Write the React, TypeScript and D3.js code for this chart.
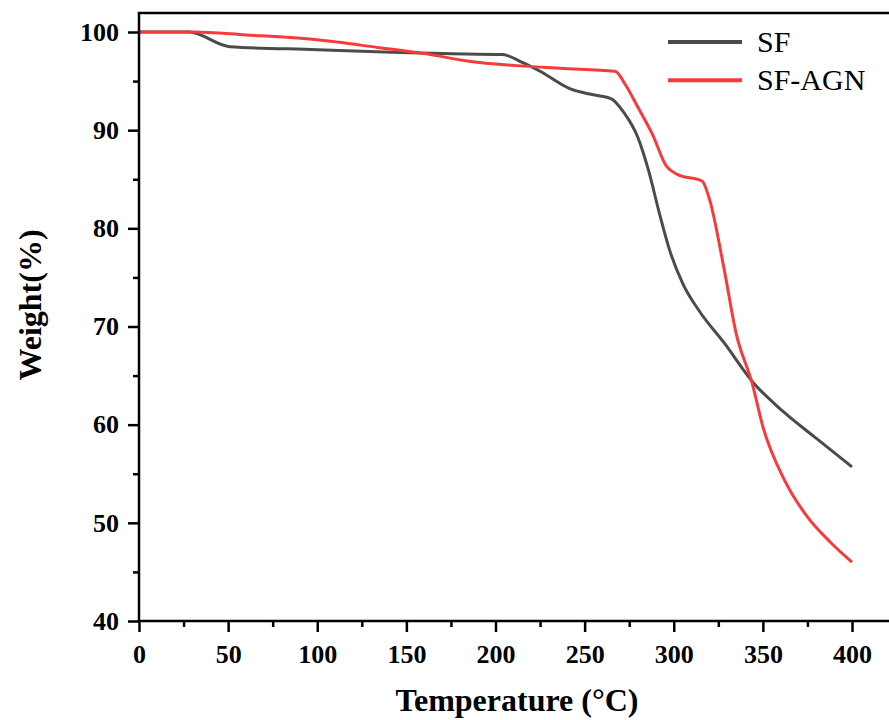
import { useEffect, useRef } from "react";
import * as d3 from "d3";

// TGA curves: [temperature °C, weight %]
const sfData: [number, number][] = [
  [0, 100], [28, 100], [51, 98.5], [100, 98.2], [146, 97.9], [170, 97.8],
  [204, 97.7], [215, 96.9], [225, 96.0], [242, 94.2], [255, 93.6], [265, 93.2],
  [272, 91.8], [280, 89.2], [286, 85.8], [292, 81.5], [298, 77.6], [305, 74.4],
  [315, 71.4], [328, 68.4], [345, 64.2], [361, 61.4], [380, 58.6], [400, 55.7],
];
const agnData: [number, number][] = [
  [0, 100], [30, 100], [60, 99.7], [100, 99.2], [135, 98.4], [160, 97.8],
  [186, 97.0], [210, 96.6], [236, 96.3], [267, 96.0], [273, 94.6], [280, 92.3],
  [288, 89.6], [296, 86.3], [302, 85.5], [316, 84.8], [320, 83.0], [328, 76.1],
  [335, 69.3], [344, 64.2], [350, 59.8], [362, 54.4], [375, 50.6], [388, 48.0],
  [400, 46.0],
];
const seriesNames = ["SF", "SF-AGN"];
const seriesColors = ["#4b4b4b", "#f73b3b"];
const xTicks = [0, 50, 100, 150, 200, 250, 300, 350, 400];
const xMinor = [25, 75, 125, 175, 225, 275, 325, 375, 425];
const yTicks = [40, 50, 60, 70, 80, 90, 100];
const yMinor = [45, 55, 65, 75, 85, 95];

const W = 889;
const H = 720;

export default function App() {
  const xAxisRef = useRef<SVGGElement>(null);
  const xMinorRef = useRef<SVGGElement>(null);
  const yAxisRef = useRef<SVGGElement>(null);
  const yMinorRef = useRef<SVGGElement>(null);

  const x = d3.scaleLinear().domain([0, 400]).range([139, 852]);
  const y = d3.scaleLinear().domain([40, 100]).range([621, 32]);
  const xEnd = x(430);
  const yTop = y(101.93);

  const line = d3
    .line<[number, number]>()
    .x((d) => x(d[0]))
    .y((d) => y(d[1]))
    .curve(d3.curveMonotoneX);

  useEffect(() => {
    const font = "'Liberation Serif', 'Times New Roman', serif";
    const xa = d3.select(xAxisRef.current!);
    xa.call(d3.axisBottom(x).tickValues(xTicks).tickSize(11).tickSizeOuter(0).tickPadding(13).tickFormat(d3.format("d")));
    const xm = d3.select(xMinorRef.current!);
    xm.call(d3.axisBottom(x).tickValues(xMinor).tickSize(6).tickSizeOuter(0).tickFormat(() => ""));
    const ya = d3.select(yAxisRef.current!);
    ya.call(d3.axisLeft(y).tickValues(yTicks).tickSize(11).tickSizeOuter(0).tickPadding(9).tickFormat(d3.format("d")));
    const ym = d3.select(yMinorRef.current!);
    ym.call(d3.axisLeft(y).tickValues(yMinor).tickSize(6).tickSizeOuter(0).tickFormat(() => ""));
    [xa, xm, ya, ym].forEach((g) => {
      g.select(".domain").remove();
      g.selectAll("line").attr("stroke", "#000").attr("stroke-width", 2.5);
      g.selectAll("text")
        .attr("fill", "#000")
        .style("font-family", font)
        .style("font-weight", "bold")
        .style("font-size", "26px");
    });
  }, []);

  const titleStyle = { fontFamily: "'Liberation Serif', serif", fontWeight: "bold", fontSize: 32 };

  return (
    <div style={{ position: "absolute", left: 0, top: 0 }}>
      <svg width={W} height={H} style={{ display: "block", background: "#fff" }}>
        <path d={line(sfData) ?? ""} fill="none" stroke={seriesColors[0]} strokeWidth={3} />
        <path d={line(agnData) ?? ""} fill="none" stroke={seriesColors[1]} strokeWidth={3} />

        {/* frame */}
        <line x1={x(0)} x2={x(0)} y1={yTop} y2={y(40)} stroke="#000" strokeWidth={2.5} />
        <line x1={x(0) - 1.2} x2={xEnd} y1={y(40)} y2={y(40)} stroke="#000" strokeWidth={2.5} />
        <line x1={x(0) - 1.2} x2={xEnd} y1={yTop} y2={yTop} stroke="#000" strokeWidth={2.5} />

        <g ref={xAxisRef} transform={`translate(0,${y(40)})`} />
        <g ref={xMinorRef} transform={`translate(0,${y(40)})`} />
        <g ref={yAxisRef} transform={`translate(${x(0)},0)`} />
        <g ref={yMinorRef} transform={`translate(${x(0)},0)`} />

        <text x={517} y={711} textAnchor="middle" style={titleStyle}>
          Temperature (°C)
        </text>
        <text transform={`translate(41,305) rotate(-90)`} textAnchor="middle" style={titleStyle}>
          Weight(%)
        </text>

        {/* legend */}
        {seriesNames.map((name, i) => (
          <g key={name} transform={`translate(0,${42 + i * 38.3})`}>
            <line x1={668} x2={742} y1={0} y2={0} stroke={seriesColors[i]} strokeWidth={4} />
            <text x={757} y={10} style={{ fontFamily: "'Liberation Serif', serif", fontSize: 30 }}>
              {name}
            </text>
          </g>
        ))}
      </svg>
    </div>
  );
}
